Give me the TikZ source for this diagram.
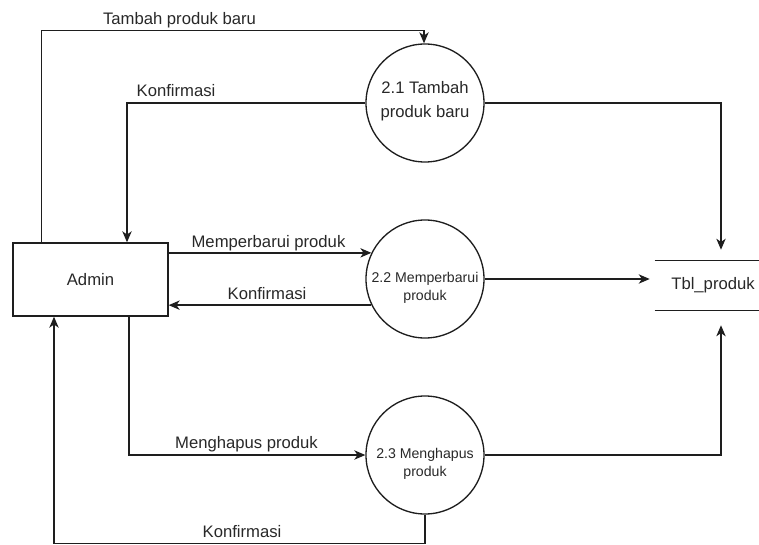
\documentclass[tikz,border=0pt]{standalone}
\usepackage{fontspec}
\setmainfont{Liberation Sans}
\usetikzlibrary{arrows.meta,calc}
\definecolor{linec}{RGB}{30,30,30}
\definecolor{textc}{RGB}{40,40,40}
\begin{document}
\begin{tikzpicture}[x=0.75pt,y=-0.75pt,
  flow/.style={draw=linec,line width=1.05pt,-{Stealth[length=8.25pt,width=7pt,inset=2.4pt]}},
  proc/.style={circle,draw=linec,line width=1pt,minimum size=88.5pt,inner sep=0pt},
  ptext/.style={align=center,inner sep=0pt,text=textc},
  ent/.style={rectangle,draw=linec,line width=1pt,minimum width=116.25pt,minimum height=54.75pt,
    font=\fontsize{12.5}{15}\selectfont,text=textc},
  lbl/.style={anchor=base,inner sep=0pt,font=\fontsize{12.5}{15}\selectfont,text=textc}]
\useasboundingbox (0,0) rectangle (759,545);

% external entity
\node[ent] (admin) at (90.5,279.5) {Admin};

% processes
\node[proc] (p1) at (425,103) {};
\node[proc] (p2) at (425,279) {};
\node[proc] (p3) at (425,455) {};
\node[ptext,font=\fontsize{12.5}{18}\selectfont] (p1t) at (425,101) {2.1 Tambah\\produk baru};
\node[ptext,font=\fontsize{10.6}{14}\selectfont] (p2t) at (425,288) {2.2 Memperbarui\\produk};
\node[ptext,font=\fontsize{10.6}{14}\selectfont] (p3t) at (425,464) {2.3 Menghapus\\produk};

% data store
\node[minimum width=87pt,minimum height=36.75pt,inner sep=0pt,
  font=\fontsize{12.5}{15}\selectfont,text=textc] (tbl) at (713,285.5) {Tbl\_produk};
\draw[linec,line width=1pt] (tbl.north west) -- (tbl.north east);
\draw[linec,line width=1pt] (tbl.south west) -- (tbl.south east);

% flows between Admin and the processes
\draw[flow] ($(admin.north west)+(29,0)$) |- ($(p1.north)+(-1,-13)$) -- ($(p1.north)+(-1,0)$);
\draw[flow] (p1.west) -| ($(admin.north)+(36.5,0)$);
\draw[flow] (admin.east |- p2.154) -- (p2.154);
\draw[flow] (p2.206) -- (admin.east |- p2.206);
\draw[flow] ($(admin.south)+(38.5,0)$) |- (p3.west);
\draw[flow] (p3.south) -- ++(0,29) -| ($(admin.south)+(-36.5,0)$);

% flows into the data store
\draw[flow,shorten >=8.25pt] (p1.east) -| ($(tbl.north)+(8,0)$);
\draw[flow,shorten >=3.75pt] (p2.east) -- (tbl.west |- p2.east);
\draw[flow,shorten >=11.25pt] (p3.east) -| ($(tbl.south)+(8,0)$);

% flow labels
\node[lbl] (l1) at (179.5,25) {Tambah produk baru};
\node[lbl] (l2) at (176,97) {Konfirmasi};
\node[lbl] (l3) at (268.5,247) {Memperbarui produk};
\node[lbl] (l4) at (267,299) {Konfirmasi};
\node[lbl] (l5) at (246.5,448) {Menghapus produk};
\node[lbl] (l6) at (242,537) {Konfirmasi};
\end{tikzpicture}
\end{document}
